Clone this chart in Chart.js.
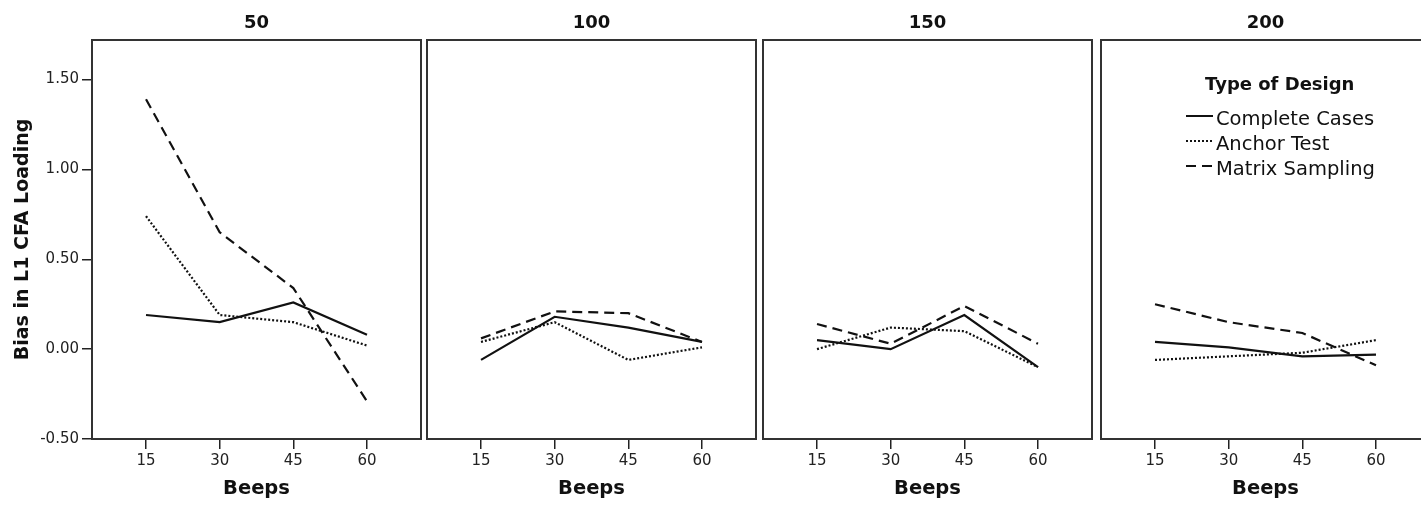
<!DOCTYPE html>
<html lang="en">
<head>
<meta charset="UTF-8">
<title>Bias in L1 CFA Loading by Beeps</title>
<script src="https://cdn.jsdelivr.net/npm/chart.js"></script>
<style>
    body {
        margin: 0;
        background: #fff;
        overflow: hidden;
    }
    #wrap {
        position: relative;
        width: 1421px;
        height: 507px;
        overflow: hidden;
    }
    .panel {
        position: absolute;
        top: 0;
        height: 507px;
    }
</style>
</head>
<body>
<div id="wrap"></div>

<script>
    // panels = sample size, x = number of beeps
    const sampleSizes = ['50', '100', '150', '200'];
    const beeps = [15, 30, 45, 60];
    const yTicks = [-0.5, 0, 0.5, 1.0, 1.5];
    const designs = ['Complete Cases', 'Anchor Test', 'Matrix Sampling'];

    // one row per panel (50, 100, 150, 200)
    const completeCases = [
        [0.19, 0.15, 0.26, 0.08],
        [-0.06, 0.18, 0.12, 0.04],
        [0.05, 0.00, 0.19, -0.10],
        [0.04, 0.01, -0.04, -0.03]
    ];
    const anchorTest = [
        [0.74, 0.19, 0.15, 0.02],
        [0.04, 0.15, -0.06, 0.01],
        [0.00, 0.12, 0.10, -0.10],
        [-0.06, -0.04, -0.02, 0.05]
    ];
    const matrixSampling = [
        [1.39, 0.65, 0.34, -0.29],
        [0.06, 0.21, 0.20, 0.04],
        [0.14, 0.03, 0.24, 0.03],
        [0.25, 0.15, 0.09, -0.09]
    ];

    const FONT = '"DejaVu Sans", sans-serif';
    const boxLeft = [92, 427, 763, 1101];
    const boxWidth = 329;
    const yAxisWidth = 92;

    const styles = [
        { borderDash: [] },
        { borderDash: [2, 2] },
        { borderDash: [10, 6] }
    ];

    // frame around each panel's plot area
    const framePlugin = {
        id: 'frame',
        afterDraw(chart) {
            const { ctx, chartArea: a } = chart;
            ctx.save();
            ctx.strokeStyle = '#333';
            ctx.lineWidth = 2;
            ctx.strokeRect(a.left, a.top, a.right - a.left, a.bottom - a.top);
            ctx.restore();
        }
    };

    // legend drawn inside the last panel
    const legendPlugin = {
        id: 'designLegend',
        afterDraw(chart) {
            const { ctx, chartArea } = chart;
            const x0 = chartArea.left;
            ctx.save();
            ctx.fillStyle = '#111';
            ctx.textBaseline = 'middle';
            ctx.font = 'bold 18px ' + FONT;
            ctx.fillText('Type of Design', x0 + 104, 85);
            ctx.font = '19.5px ' + FONT;
            chart.data.datasets.forEach((ds, k) => {
                const y = 120 + k * 25;
                ctx.beginPath();
                ctx.setLineDash(ds.borderDash);
                ctx.lineWidth = 2;
                ctx.strokeStyle = ds.borderColor;
                ctx.moveTo(x0 + 85, y - 4);
                ctx.lineTo(x0 + 112, y - 4);
                ctx.stroke();
                ctx.setLineDash([]);
                ctx.fillText(ds.label, x0 + 115, y);
            });
            ctx.restore();
        }
    };

    const seriesByDesign = [completeCases, anchorTest, matrixSampling];
    const wrap = document.getElementById('wrap');

    sampleSizes.forEach((size, i) => {
        const first = i === 0;
        const padLeft = first ? 0 : 2;
        const left = first ? 0 : boxLeft[i] - padLeft;
        const width = (first ? yAxisWidth : padLeft) + boxWidth + 2;

        const div = document.createElement('div');
        div.className = 'panel';
        div.style.left = left + 'px';
        div.style.width = width + 'px';
        const canvas = document.createElement('canvas');
        div.appendChild(canvas);
        wrap.appendChild(div);

        const datasets = designs.map((name, k) => ({
            label: name,
            data: beeps.map((b, j) => ({ x: b, y: seriesByDesign[k][i][j] })),
            borderColor: '#111',
            borderWidth: 2.2,
            borderDash: styles[k].borderDash,
            pointRadius: 0,
            tension: 0,
            fill: false
        }));

        new Chart(canvas, {
            type: 'line',
            data: { datasets },
            plugins: i === 3 ? [framePlugin, legendPlugin] : [framePlugin],
            options: {
                responsive: true,
                maintainAspectRatio: false,
                animation: false,
                events: [],
                layout: { padding: { left: padLeft, right: 2, top: 0, bottom: 0 } },
                plugins: {
                    legend: { display: false },
                    tooltip: { enabled: false },
                    title: {
                        display: true,
                        fullSize: false,
                        text: size,
                        color: '#111',
                        font: { family: FONT, size: 18, weight: 'bold' },
                        padding: { top: 12.2, bottom: 6.2 }
                    }
                },
                scales: {
                    x: {
                        type: 'linear',
                        min: 4,
                        max: 71,
                        afterBuildTicks: s => { s.ticks = beeps.map(v => ({ value: v })); },
                        afterFit: s => { s.height = 68; },
                        border: { display: false },
                        grid: {
                            display: true,
                            drawOnChartArea: false,
                            drawTicks: true,
                            tickLength: 10,
                            color: '#222',
                            lineWidth: 1.5
                        },
                        ticks: {
                            color: '#222',
                            font: { family: FONT, size: 15 },
                            padding: 3.5,
                            maxRotation: 0
                        },
                        title: {
                            display: true,
                            text: 'Beeps',
                            color: '#111',
                            font: { family: FONT, size: 19.5, weight: 'bold' },
                            padding: { top: 0, bottom: 6.5 }
                        }
                    },
                    y: {
                        type: 'linear',
                        display: first,
                        min: -0.5,
                        max: 1.72,
                        bounds: 'data',
                        afterBuildTicks: s => { s.ticks = yTicks.map(v => ({ value: v })); },
                        afterFit: s => { s.width = first ? yAxisWidth : 0; },
                        border: { display: false },
                        grid: {
                            display: true,
                            drawOnChartArea: false,
                            drawTicks: true,
                            tickLength: 10,
                            color: '#222',
                            lineWidth: 1.5
                        },
                        ticks: {
                            color: '#222',
                            font: { family: FONT, size: 15 },
                            padding: 3,
                            callback: v => v.toFixed(2)
                        },
                        title: {
                            display: true,
                            text: 'Bias in L1 CFA Loading',
                            color: '#111',
                            font: { family: FONT, size: 19, weight: 'bold' },
                            padding: { top: 11.6, bottom: 0 }
                        }
                    }
                }
            }
        });
    });
</script>
</body>
</html>
